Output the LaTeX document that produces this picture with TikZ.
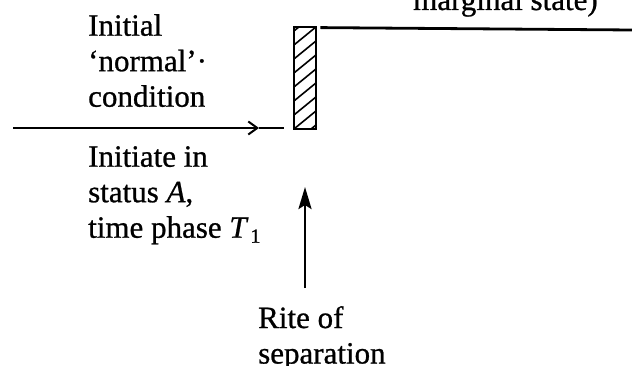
\documentclass[tikz,border=0pt]{standalone}
\usepackage{fontspec}
\setmainfont[FakeBold=0.8]{Liberation Serif}
\usetikzlibrary{arrows.meta}
\begin{document}
\begin{tikzpicture}[x=1pt,y=-1pt,
  lbl/.style={inner sep=0pt, align=left, font=\fontsize{31}{35.5}\selectfont},
  thick line/.style={line width=2.8pt},
  hatch/.style={draw, line width=2.4pt, inner sep=0pt, minimum width=22pt, minimum height=102pt,
    path picture={\foreach \k in {-1,...,8}{\draw[line width=1.6pt]
      ([yshift=\k*14pt]path picture bounding box.south west) -- ++(22,-18);}}}]
\useasboundingbox (0,0) rectangle (632,366);
\clip (0,0) rectangle (632,366);
% bar (rite of separation)
\node[hatch, anchor=south west] (bar) at (293,130) {};
% texts
\node[lbl, anchor=north west] (initial) at (88,14) {Initial\\‘normal’·\\condition};
\node[lbl, anchor=north west] (initiate) at (88,146) {Initiate in\\status \textit{A},\\time phase \textit{T}\kern2pt\raisebox{-5pt}{\fontsize{20}{20}\selectfont 1}};
\node[lbl, anchor=north west] (rite) at (258,306) {Rite of\\separation};
\node[lbl, anchor=base west] (marg) at (413,10) {marginal state)};
% connectors
\coordinate (hstart) at (13,128);
\coordinate (hmid) at (259,128);
\coordinate (hend) at (284,128);
\coordinate (tend) at (632,30);
\coordinate (vbase) at (305,288);
\coordinate (vtip) at (305,187);
\draw[thick line, -{Straight Barb[length=9pt,width=13pt,line width=2pt]}] (hstart) -- (hmid);
\draw[thick line] (hmid) -- (hend);
\draw[thick line] ([xshift=3pt,yshift=-2pt]bar.north east) -- (tend);
\draw[line width=2.8pt, -{Stealth[length=22pt,width=13pt,inset=4pt]}] (vbase) -- (vtip);
\end{tikzpicture}
\end{document}
